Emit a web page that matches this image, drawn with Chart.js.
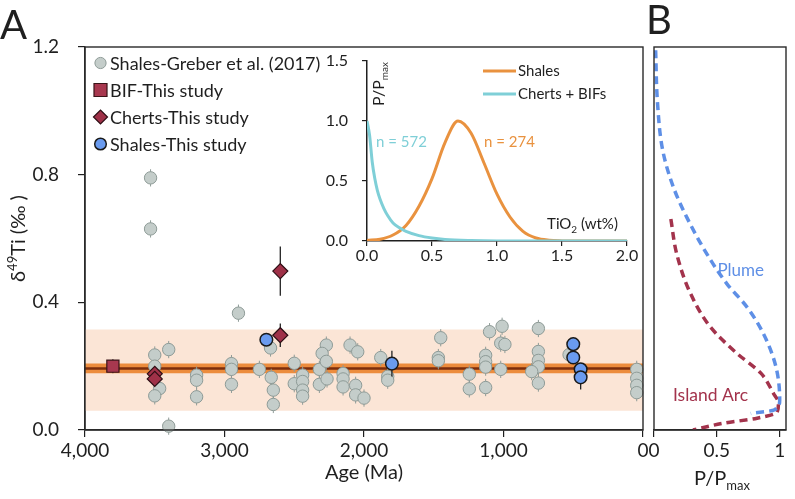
<!DOCTYPE html>
<html lang="en">
<head>
<meta charset="utf-8">
<title>Ti isotopes through time</title>
<script src="https://cdn.jsdelivr.net/npm/chart.js@4.4.1/dist/chart.umd.min.js"></script>
<style>
  body { margin: 0; background: #fff; }
  #figure { position: relative; width: 795px; height: 499px; }
  #figure canvas { position: absolute; left: 0; top: 0; }
</style>
</head>
<body>
<div id="figure">
  <canvas id="panelA" width="795" height="499"></canvas>
  <canvas id="inset" width="795" height="499"></canvas>
  <canvas id="panelB" width="795" height="499"></canvas>
</div>
<script>
// ---------- values ----------
// Panel A: d49Ti (permil) against age (Ma)
const ageTicks = [0, 1000, 2000, 3000, 4000];
const d49Ticks = [0, 0.4, 0.8, 1.2];

const greberAge = [3530, 3530, 3500, 3500, 3465, 3500, 3400, 3400, 3200, 3200, 3200,
  2950, 2950, 2950, 2900, 2750, 2670, 2665, 2650, 2650, 2500, 2500, 2440, 2440, 2440, 2440,
  2320, 2320, 2270, 2300, 2270, 2265, 2150, 2150, 2150, 2100, 2045, 2060, 2060, 2000,
  1880, 1830, 1830, 1450, 1467, 1467, 1245, 1245, 1128, 1128, 1128, 1128, 1100, 1010,
  1020, 990, 1020, 750, 750, 750, 750, 798, 750, 530, 45, 45, 45, 45];
const greberD49 = [0.79, 0.63, 0.235, 0.20, 0.13, 0.107, 0.252, 0.012, 0.172, 0.156, 0.104,
  0.208, 0.19, 0.143, 0.366, 0.19, 0.257, 0.165, 0.125, 0.08, 0.209, 0.145, 0.172, 0.152, 0.125, 0.106,
  0.19, 0.143, 0.266, 0.24, 0.215, 0.16, 0.177, 0.16, 0.135, 0.266, 0.245, 0.14, 0.11, 0.10,
  0.227, 0.168, 0.156, 0.289, 0.227, 0.217, 0.175, 0.129, 0.234, 0.214, 0.197, 0.133, 0.308, 0.325,
  0.272, 0.268, 0.19, 0.318, 0.246, 0.218, 0.198, 0.183, 0.147, 0.236, 0.19, 0.162, 0.14, 0.117];
const greberErr = 0.027;

const bifAge = [3800];
const bifD49 = [0.20];
const bifErr = [0.022];

const chertAge = [3500, 3500, 2600, 2600];
const chertD49 = [0.176, 0.160, 0.297, 0.498];
const chertErr = [0.015, 0.015, 0.037, 0.077];

const shaleAge = [2700, 1800, 500, 500, 447, 447];
const shaleD49 = [0.283, 0.208, 0.269, 0.227, 0.190, 0.165];
const shaleErr = [0.02, 0.04, 0.02, 0.02, 0.02, 0.038];

const meanD49 = 0.193;
const meanBand = [0.178, 0.208];
const sdBand = [0.06, 0.315];

// Inset: TiO2 (wt%) distributions, P/Pmax
const tioTicks = [0, 0.5, 1, 1.5, 2];
const insetPTicks = [0, 0.5, 1, 1.5];
const shaleTiO2 = [0, 0.1, 0.2, 0.3, 0.4, 0.5, 0.6, 0.7, 0.8, 0.9, 1.0, 1.1, 1.2, 1.3, 1.4, 1.5, 1.6, 2.0];
const shalePdf = [0.005, 0.015, 0.05, 0.13, 0.29, 0.52, 0.82, 1.0, 0.9, 0.65, 0.39, 0.2, 0.08, 0.025, 0.006, 0.001, 0, 0];
const chertTiO2 = [0, 0.02, 0.04, 0.06, 0.08, 0.1, 0.13, 0.16, 0.2, 0.25, 0.3, 0.4, 0.5, 0.6, 0.8, 1.0, 2.0];
const chertPdf = [1.0, 0.88, 0.66, 0.52, 0.42, 0.35, 0.27, 0.21, 0.15, 0.11, 0.08, 0.045, 0.025, 0.013, 0.004, 0.001, 0];

// Panel B: P/Pmax against d49Ti
const pTicks = [0, 0.5, 1];
const plumeP = [0.013, 0.027, 0.07, 0.155, 0.26, 0.42, 0.58, 0.74, 0.87, 0.97, 1.0, 0.955, 0.77];
const plumeD49 = [1.19, 1.03, 0.875, 0.76, 0.667, 0.552, 0.458, 0.385, 0.302, 0.198, 0.094, 0.0625, 0.052];
const arcP = [0.134, 0.18, 0.29, 0.45, 0.66, 0.85, 0.95, 0.99, 0.98, 0.82, 0.55, 0.31];
const arcD49 = [0.661, 0.553, 0.428, 0.322, 0.24, 0.178, 0.115, 0.084, 0.056, 0.037, 0.021, 0.0];

// ---------- shared bits ----------
const FONT = "Lato, 'Noto Sans', sans-serif";
const INK = "#1f1f1f";
Chart.defaults.font.family = FONT;
Chart.defaults.color = INK;

const pts = (xs, ys) => xs.map((x, i) => ({ x: x, y: ys[i] }));
const fixTicks = (list) => (scale) => { scale.ticks = list.map(v => ({ value: v })); };

// text with sub/superscripts: parts = [text, size, dy]
function richText(ctx, parts, x, y, align) {
  let w = 0;
  parts.forEach(p => { ctx.font = p[1] + "px " + FONT; w += ctx.measureText(p[0]).width; });
  let cx = align === "center" ? x - w / 2 : (align === "right" ? x - w : x);
  ctx.textAlign = "left";
  ctx.textBaseline = "alphabetic";
  parts.forEach(p => {
    ctx.font = p[1] + "px " + FONT;
    ctx.fillText(p[0], cx, y + (p[2] || 0));
    cx += ctx.measureText(p[0]).width;
  });
}

// draws error bars of a dataset right before its markers
const errorBars = {
  id: "errorBars",
  beforeDatasetDraw(chart, args) {
    const ds = chart.data.datasets[args.index];
    if (!ds.errors) return;
    const { ctx, scales: { x, y } } = chart;
    ctx.save();
    ctx.strokeStyle = ds.errorColor;
    ctx.lineWidth = ds.errorWidth || 1;
    ds.data.forEach((p, i) => {
      const px = x.getPixelForValue(p.x);
      ctx.beginPath();
      ctx.moveTo(px, y.getPixelForValue(p.y - ds.errors[i]));
      ctx.lineTo(px, y.getPixelForValue(p.y + ds.errors[i]));
      ctx.stroke();
    });
    ctx.restore();
  }
};

const frame = {
  id: "frame",
  afterDatasetsDraw(chart) {
    const { ctx, chartArea: a } = chart;
    ctx.save();
    ctx.strokeStyle = "#2a2a2a";
    ctx.lineWidth = 1.4;
    ctx.strokeRect(a.left, a.top, a.right - a.left, a.bottom - a.top);
    ctx.restore();
  }
};

// ---------- panel A ----------
const panelADecor = {
  id: "panelADecor",
  afterDraw(chart) {
    const { ctx, chartArea: a } = chart;
    ctx.save();
    ctx.fillStyle = INK;
    ctx.font = "40px " + FONT;
    ctx.textAlign = "left";
    ctx.textBaseline = "alphabetic";
    ctx.fillText("A", 0, 39);

    // y title
    ctx.save();
    ctx.translate(25, (a.top + a.bottom) / 2);
    ctx.rotate(-Math.PI / 2);
    richText(ctx, [["δ", 20], ["49", 13, -8], ["Ti (‰ )", 20]], 0, 0, "center");
    ctx.restore();

    // legend
    chart.data.datasets.forEach((ds) => {
      if (!ds.legendRadius) return;
      const y = a.top + 16 + 27 * ds.legendRank;
      ctx.fillStyle = ds.backgroundColor;
      ctx.strokeStyle = ds.borderColor;
      ctx.lineWidth = ds.borderWidth;
      Chart.helpers.drawPoint(ctx, { pointStyle: ds.pointStyle, radius: ds.legendRadius, borderWidth: ds.borderWidth, rotation: 0 }, a.left + 15.5, y);
      ctx.fillStyle = INK;
      ctx.font = "18px " + FONT;
      ctx.textAlign = "left";
      ctx.textBaseline = "middle";
      ctx.fillText(ds.label, a.left + 25, y + 1);
    });
    ctx.restore();
  }
};

const flat = (v) => pts([4000, 0], [v, v]);

new Chart(document.getElementById("panelA"), {
  type: "scatter",
  data: {
    datasets: [
      { type: "line", label: "spread", data: flat(sdBand[1]), borderColor: "rgba(0,0,0,0)", borderWidth: 0,
        pointRadius: 0, fill: { value: sdBand[0] }, backgroundColor: "#FBE5D6", order: 10 },
      { type: "line", label: "mean band", data: flat(meanBand[1]), borderColor: "rgba(0,0,0,0)", borderWidth: 0,
        pointRadius: 0, fill: { value: meanBand[0] }, backgroundColor: "#EC8C3D", order: 9 },
      { type: "line", label: "mean", data: flat(meanD49), borderColor: "#7B2D0C", borderWidth: 2.5,
        pointRadius: 0, fill: false, order: 8 },
      { label: "Shales-Greber et al. (2017)", data: pts(greberAge, greberD49),
        errors: greberAge.map(() => greberErr), errorColor: "#8E9B97",
        pointStyle: "circle", pointRadius: 6.2, backgroundColor: "#C4CDCA", borderColor: "#8E9B97", borderWidth: 1,
        legendRadius: 5.6, legendRank: 0, order: 4, clip: false },
      { label: "BIF-This study", data: pts(bifAge, bifD49), errors: bifErr, errorColor: "#222",
        pointStyle: "rect", pointRadius: 8.6, backgroundColor: "#A8384F", borderColor: "#3a1418", borderWidth: 1.2,
        legendRadius: 9.2, legendRank: 1, order: 3, clip: false },
      { label: "Cherts-This study", data: pts(chertAge, chertD49), errors: chertErr, errorColor: "#222", errorWidth: 1.3,
        pointStyle: "rectRot", pointRadius: 7.5, backgroundColor: "#9F3148", borderColor: "#2d0e14", borderWidth: 1.2,
        legendRadius: 7, legendRank: 2, order: 2, clip: false },
      { label: "Shales-This study", data: pts(shaleAge, shaleD49), errors: shaleErr, errorColor: "#222", errorWidth: 1.3,
        pointStyle: "circle", pointRadius: 6.3, backgroundColor: "#6A9BEF", borderColor: "#1a1a1a", borderWidth: 1.5,
        legendRadius: 5.8, legendRank: 3, order: 1, clip: false }
    ]
  },
  options: {
    responsive: false,
    animation: false,
    devicePixelRatio: 1,
    layout: { padding: { left: 0, top: 47, right: 152, bottom: 0 } },
    plugins: { legend: { display: false }, tooltip: { enabled: false } },
    scales: {
      x: {
        type: "linear", reverse: true, min: 0, max: 4000,
        afterBuildTicks: fixTicks(ageTicks),
        afterFit: (s) => { s.height = 69; },
        ticks: { callback: (v) => v.toLocaleString("en-US"), font: { size: 19 }, padding: 2, maxRotation: 0, autoSkip: false },
        grid: { drawOnChartArea: false, tickLength: 7, color: INK, lineWidth: 1.2 },
        border: { color: "#2a2a2a", width: 1.4 },
        title: { display: true, text: "Age (Ma)", font: { size: 20 }, padding: { top: 0, bottom: 14 } }
      },
      y: {
        min: 0, max: 1.2,
        afterBuildTicks: fixTicks(d49Ticks),
        afterFit: (s) => { s.width = 85; },
        ticks: { callback: (v) => v.toFixed(1), font: { size: 19 }, padding: 19 },
        grid: { drawOnChartArea: false, tickLength: 7, color: INK, lineWidth: 1.2 },
        border: { color: "#2a2a2a", width: 1.4 }
      }
    }
  },
  plugins: [errorBars, frame, panelADecor]
});

// ---------- inset ----------
const SHALE_C = "#E9923F";
const CHERT_C = "#7FCFD7";

const insetDecor = {
  id: "insetDecor",
  afterDraw(chart) {
    const { ctx, chartArea: a, scales: { x, y } } = chart;
    ctx.save();
    ctx.fillStyle = INK;
    ctx.save();
    ctx.translate(a.left + 17, 84);
    ctx.rotate(-Math.PI / 2);
    richText(ctx, [["P/P", 16], ["max", 10, 4]], 0, 0, "center");
    ctx.restore();

    // legend
    [[SHALE_C, "Shales", 71], [CHERT_C, "Cherts + BIFs", 94]].forEach(([c, t, ly]) => {
      ctx.strokeStyle = c;
      ctx.lineWidth = 3;
      ctx.beginPath();
      ctx.moveTo(483, ly);
      ctx.lineTo(516, ly);
      ctx.stroke();
      ctx.fillStyle = INK;
      ctx.font = "15px " + FONT;
      ctx.textAlign = "left";
      ctx.textBaseline = "middle";
      ctx.fillText(t, 518, ly);
    });

    ctx.font = "15px " + FONT;
    ctx.textBaseline = "middle";
    ctx.textAlign = "left";
    ctx.fillStyle = CHERT_C;
    ctx.fillText("n = 572", x.getPixelForValue(0.07), y.getPixelForValue(0.82));
    ctx.fillStyle = SHALE_C;
    ctx.fillText("n = 274", x.getPixelForValue(0.9), y.getPixelForValue(0.82));

    ctx.fillStyle = INK;
    richText(ctx, [["TiO", 15], ["2", 10, 4], [" (wt%)", 15]], x.getPixelForValue(1.93), y.getPixelForValue(0.1), "right");
    ctx.restore();
  }
};

new Chart(document.getElementById("inset"), {
  type: "line",
  data: {
    datasets: [
      { label: "Shales", data: pts(shaleTiO2, shalePdf), borderColor: SHALE_C, borderWidth: 3,
        pointRadius: 0, cubicInterpolationMode: "monotone", fill: false, order: 2 },
      { label: "Cherts + BIFs", data: pts(chertTiO2, chertPdf), borderColor: CHERT_C, borderWidth: 3,
        pointRadius: 0, cubicInterpolationMode: "monotone", fill: false, order: 1 }
    ]
  },
  options: {
    responsive: false,
    animation: false,
    devicePixelRatio: 1,
    layout: { padding: { left: 320, top: 61, right: 168, bottom: 229 } },
    plugins: { legend: { display: false }, tooltip: { enabled: false } },
    scales: {
      x: {
        type: "linear", min: 0, max: 2,
        afterBuildTicks: fixTicks(tioTicks),
        afterFit: (s) => { s.height = 29; },
        ticks: { callback: (v) => v.toFixed(1), font: { size: 16 }, padding: 0, maxRotation: 0, autoSkip: false },
        grid: { drawOnChartArea: false, tickLength: 5, color: INK, lineWidth: 1.2 },
        border: { color: INK, width: 1.5 }
      },
      y: {
        min: 0, max: 1.5,
        afterBuildTicks: fixTicks(insetPTicks),
        afterFit: (s) => { s.width = 47; },
        ticks: { callback: (v) => v.toFixed(1), font: { size: 16 }, padding: 14 },
        grid: { drawOnChartArea: false, tickLength: 5, color: INK, lineWidth: 1.2 },
        border: { color: INK, width: 1.5 }
      }
    }
  },
  plugins: [insetDecor]
});

// ---------- panel B ----------
const PLUME_C = "#5E8FE6";
const ARC_C = "#A3334C";

const panelBDecor = {
  id: "panelBDecor",
  afterDraw(chart) {
    const { ctx, chartArea: a, scales: { x, y } } = chart;
    ctx.save();
    ctx.fillStyle = INK;
    ctx.font = "40px " + FONT;
    ctx.textAlign = "left";
    ctx.textBaseline = "alphabetic";
    ctx.fillText("B", 646, 34);

    richText(ctx, [["P/P", 20], ["max", 13, 5]], (a.left + a.right) / 2 + 2, 485, "center");

    ctx.font = "17px " + FONT;
    ctx.textAlign = "center";
    ctx.textBaseline = "middle";
    ctx.fillStyle = PLUME_C;
    ctx.fillText("Plume", x.getPixelForValue(0.69), y.getPixelForValue(0.5));
    ctx.fillStyle = ARC_C;
    ctx.font = "17.5px " + FONT;
    ctx.fillText("Island Arc", x.getPixelForValue(0.45), y.getPixelForValue(0.11));
    ctx.restore();
  }
};

new Chart(document.getElementById("panelB"), {
  type: "scatter",
  data: {
    datasets: [
      { label: "Plume", data: pts(plumeP, plumeD49), showLine: true, borderColor: PLUME_C, borderWidth: 3.5,
        borderDash: [8, 5], pointRadius: 0, cubicInterpolationMode: "monotone", fill: false },
      { label: "Island Arc", data: pts(arcP, arcD49), showLine: true, borderColor: ARC_C, borderWidth: 3.5,
        borderDash: [8, 5], pointRadius: 0, cubicInterpolationMode: "monotone", fill: false }
    ]
  },
  options: {
    indexAxis: "y",
    responsive: false,
    animation: false,
    devicePixelRatio: 1,
    layout: { padding: { left: 654, top: 47, right: 9, bottom: 0 } },
    plugins: { legend: { display: false }, tooltip: { enabled: false } },
    scales: {
      x: {
        type: "linear", min: 0, max: 1.05,
        afterBuildTicks: fixTicks(pTicks),
        afterFit: (s) => { s.height = 69; },
        ticks: { callback: (v) => String(v), font: { size: 19 }, padding: 2, maxRotation: 0, autoSkip: false },
        grid: { drawOnChartArea: false, tickLength: 7, color: INK, lineWidth: 1.2 },
        border: { color: "#2a2a2a", width: 1.4 }
      },
      y: { type: "linear", display: false, min: 0, max: 1.2 }
    }
  },
  plugins: [frame, panelBDecor]
});
</script>
</body>
</html>
